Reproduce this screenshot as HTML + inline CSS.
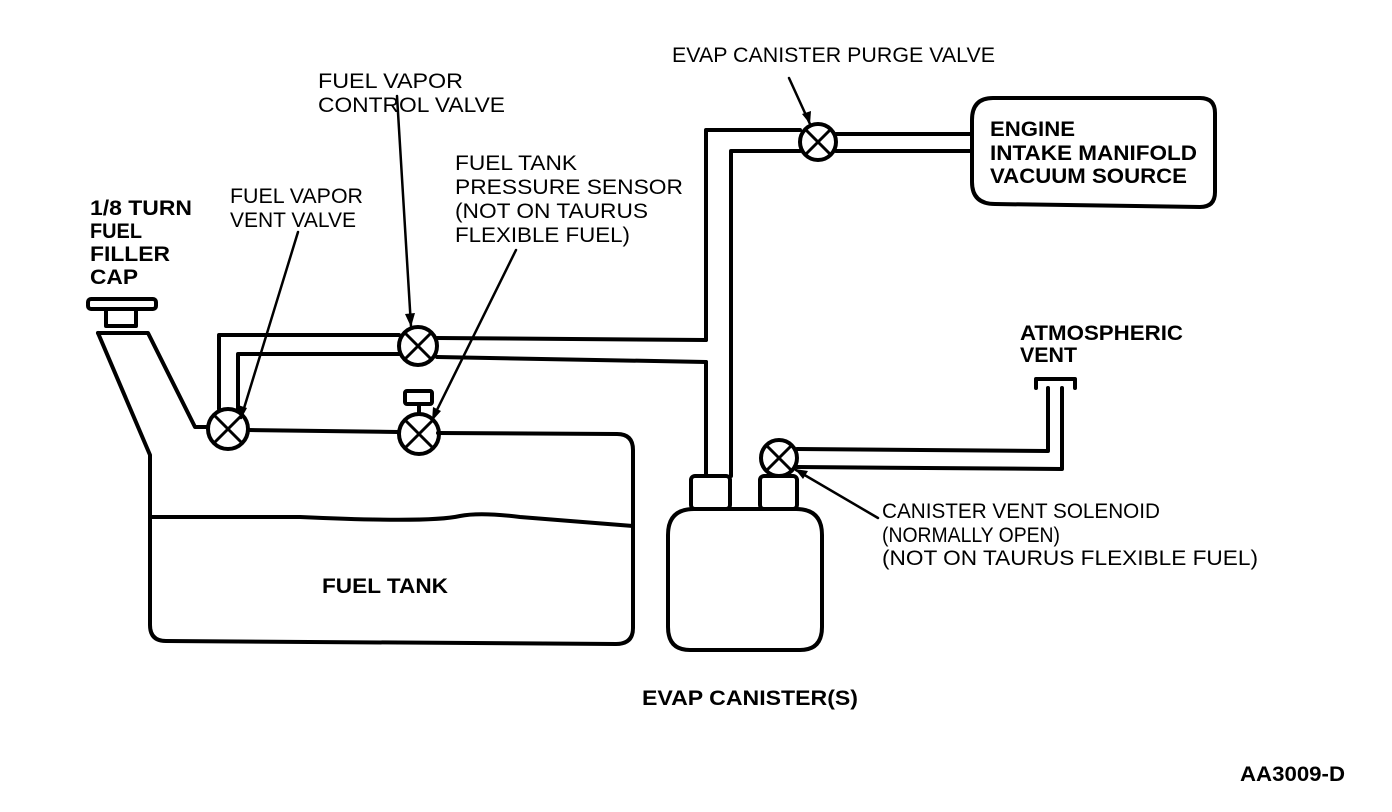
<!DOCTYPE html>
<html><head><meta charset="utf-8"><style>
html,body{margin:0;padding:0;background:#fff;}
svg{display:block}
text{font-family:"Liberation Sans",Arial,sans-serif;font-size:21px;fill:#000}
.b{font-weight:bold}
</style></head><body>
<svg width="1392" height="812" viewBox="0 0 1392 812" xmlns="http://www.w3.org/2000/svg">
<g fill="none" stroke="#000" stroke-width="4" stroke-linejoin="round" stroke-linecap="round">
<rect x="88" y="299" width="68" height="10" rx="3"/>
<rect x="106" y="309" width="30" height="17"/>
<path d="M98,333 L148,333 L195,427 L208,427"/>
<path d="M98,333 L150,455 L150,625 Q150,641 166,641 L616,644 Q633,644 633,628 L633,450 Q633,434 617,434 L438,433"/>
<path d="M248,430 L398,432"/>
<path d="M150,517 L300,517 Q430,523 460,516 Q480,512 520,517 L633,526"/>
<circle cx="228" cy="429" r="20"/>
<path d="M215,442 L241,416 M215,416 L241,442" stroke-width="3"/>
<path d="M219,409 L219,335 L399,335"/>
<path d="M238,409 L238,354 L399,354"/>
<circle cx="418" cy="346" r="19"/>
<path d="M405,359 L431,333 M405,333 L431,359" stroke-width="3"/>
<path d="M437,338 L706,340 M437,357 L706,362"/>
<circle cx="419" cy="434" r="20"/>
<path d="M406,447 L432,421 M406,421 L432,447" stroke-width="3"/>
<rect x="405" y="391" width="27" height="13" rx="2"/>
<path d="M419,404 L419,414"/>
<path d="M706,340 L706,130 L800,130"/>
<path d="M706,362 L706,476"/>
<path d="M731,476 L731,151 L800,151"/>
<circle cx="818" cy="142" r="18"/>
<path d="M806,154 L830,130 M806,130 L830,154" stroke-width="3"/>
<path d="M836,134 L972,134 M836,151 L972,151"/>
<path d="M993,98 L1200,98 Q1215,98 1215,113 L1215,192 Q1215,207 1200,207 L995,204 Q972,204 972,182 L972,120 Q972,98 993,98 Z"/>
<rect x="691" y="476" width="39" height="33" rx="4"/>
<rect x="760" y="476" width="37" height="33" rx="4"/>
<path d="M694,509 L796,509 Q822,509 822,535 L822,627 Q822,650 800,650 L690,650 Q668,650 668,627 L668,535 Q668,509 694,509 Z"/>
<circle cx="779" cy="458" r="18"/>
<path d="M767,470 L791,446 M767,446 L791,470" stroke-width="3"/>
<path d="M797,449 L1048,451 L1048,388 M797,467 L1062,469 L1062,388"/>
<path d="M1036,388 L1036,379 L1075,379 L1075,388"/>
<path d="M789,78 L810,124 M397,96 L411,326 M298,232 L241,418 M516,250 L432,420 M878,518 L796,470" stroke-width="2.5"/>
</g>
<g fill="#000">
<path d="M810,124 L802,114 L811,111 Z"/>
<path d="M411,327 L405,314 L415,313 Z"/>
<path d="M241,419 L238,405 L247,408 Z"/>
<path d="M432,421 L433,407 L441,411 Z"/>
<path d="M795,469 L808,471 L803,479 Z"/>
</g>
<text x="672" y="62" textLength="323" lengthAdjust="spacingAndGlyphs">EVAP CANISTER PURGE VALVE</text>
<text x="318" y="88" textLength="145" lengthAdjust="spacingAndGlyphs">FUEL VAPOR</text>
<text x="318" y="112" textLength="187" lengthAdjust="spacingAndGlyphs">CONTROL VALVE</text>
<text x="455" y="170" textLength="122" lengthAdjust="spacingAndGlyphs">FUEL TANK</text>
<text x="455" y="194" textLength="228" lengthAdjust="spacingAndGlyphs">PRESSURE SENSOR</text>
<text x="455" y="218" textLength="193" lengthAdjust="spacingAndGlyphs">(NOT ON TAURUS</text>
<text x="455" y="242" textLength="175" lengthAdjust="spacingAndGlyphs">FLEXIBLE FUEL)</text>
<text x="230" y="203" textLength="133" lengthAdjust="spacingAndGlyphs">FUEL VAPOR</text>
<text x="230" y="227" textLength="126" lengthAdjust="spacingAndGlyphs">VENT VALVE</text>
<text class="b" x="90" y="215" textLength="102" lengthAdjust="spacingAndGlyphs">1/8 TURN</text>
<text class="b" x="90" y="238" textLength="52" lengthAdjust="spacingAndGlyphs">FUEL</text>
<text class="b" x="90" y="261" textLength="80" lengthAdjust="spacingAndGlyphs">FILLER</text>
<text class="b" x="90" y="284" textLength="48" lengthAdjust="spacingAndGlyphs">CAP</text>
<text class="b" x="990" y="136" textLength="85" lengthAdjust="spacingAndGlyphs">ENGINE</text>
<text class="b" x="990" y="160" textLength="207" lengthAdjust="spacingAndGlyphs">INTAKE MANIFOLD</text>
<text class="b" x="990" y="183" textLength="197" lengthAdjust="spacingAndGlyphs">VACUUM SOURCE</text>
<text class="b" x="1020" y="340" textLength="163" lengthAdjust="spacingAndGlyphs">ATMOSPHERIC</text>
<text class="b" x="1020" y="362" textLength="57" lengthAdjust="spacingAndGlyphs">VENT</text>
<text x="882" y="518" textLength="278" lengthAdjust="spacingAndGlyphs">CANISTER VENT SOLENOID</text>
<text x="882" y="542" textLength="178" lengthAdjust="spacingAndGlyphs">(NORMALLY OPEN)</text>
<text x="882" y="565" textLength="376" lengthAdjust="spacingAndGlyphs">(NOT ON TAURUS FLEXIBLE FUEL)</text>
<text class="b" x="322" y="593" textLength="126" lengthAdjust="spacingAndGlyphs">FUEL TANK</text>
<text class="b" x="642" y="705" textLength="216" lengthAdjust="spacingAndGlyphs">EVAP CANISTER(S)</text>
<text class="b" x="1240" y="781" textLength="105" lengthAdjust="spacingAndGlyphs">AA3009-D</text>
</svg>
</body></html>
